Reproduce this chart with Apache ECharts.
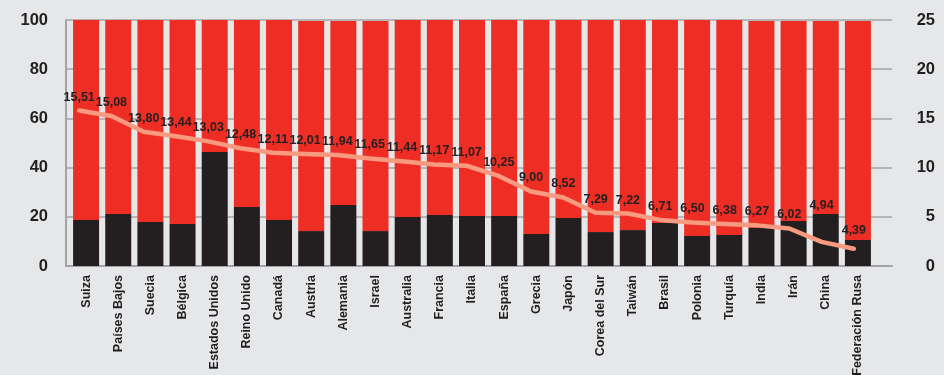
<!DOCTYPE html>
<html>
<head>
<meta charset="utf-8">
<script src="https://cdn.jsdelivr.net/npm/echarts@6/dist/echarts.min.js"></script>
<style>
html,body{margin:0;padding:0;background:#e6e7e9;}
#c{width:944px;height:375px;}
</style>
</head>
<body>
<div id="c"></div>
<script>
const categories = ["Suiza","Países Bajos","Suecia","Bélgica","Estados Unidos","Reino Unido","Canadá","Austria","Alemania","Israel","Australia","Francia","Italia","España","Grecia","Japón","Corea del Sur","Taiwán","Brasil","Polonia","Turquía","India","Irán","China","Federación Rusa"];
const blackValues = [18.7,21.1,17.9,17.1,46.3,24.0,18.7,14.2,24.8,14.2,19.9,20.7,20.3,20.3,13.0,19.5,13.8,14.6,17.5,12.2,12.6,15.4,18.3,21.1,10.6];
const totalValues = [100,100,100,100,100,100,100,99.6,99.6,99.6,100,100,100,100,100,100,100,100,100,100,100,99.6,99.6,99.6,99.6];
const redValues = totalValues.map((t,i)=>+(t-blackValues[i]).toFixed(1));
const lineValues = [15.51,15.08,13.80,13.44,13.03,12.48,12.11,12.01,11.94,11.65,11.44,11.17,11.07,10.25,9.00,8.52,7.29,7.22,6.71,6.50,6.38,6.27,6.02,4.94,4.39];
const leftTicks = {min:0,max:100,interval:20};
const rightTicks = {min:0,max:25,interval:5};

const FONT = '"Liberation Sans",Arial,sans-serif';
const labelDistance = {23:29, 24:11};
const lineData = lineValues.map((v,i)=> labelDistance[i]!==undefined ? {value:v,label:{distance:labelDistance[i]}} : v);

const chart = echarts.init(document.getElementById('c'));
chart.setOption({
  backgroundColor:'#e6e7e9',
  animation:false,
  grid:[
    {left:66,right:52,top:20,bottom:109,outerBoundsMode:'none'},
    {left:70,right:70,top:20,bottom:109,outerBoundsMode:'none'},
    {left:63,right:74,top:20,bottom:109,outerBoundsMode:'none'}
  ],
  xAxis:[
    {gridIndex:0,type:'value',min:0,max:1,axisTick:{show:false},axisLabel:{show:false},splitLine:{show:false},
     axisLine:{show:true,lineStyle:{color:'#a3a4a6',width:2}}},
    {gridIndex:1,type:'category',data:categories,
     axisTick:{show:false},axisLine:{show:false},
     axisLabel:{rotate:90,margin:9,fontFamily:FONT,fontWeight:'bold',fontSize:12.5,color:'#231f20',interval:0}},
    {gridIndex:2,type:'category',data:categories,show:false}
  ],
  yAxis:[
    {gridIndex:0,type:'value',min:leftTicks.min,max:leftTicks.max,interval:leftTicks.interval,
     axisLine:{show:true,lineStyle:{color:'#a3a4a6',width:2}},axisTick:{show:false},
     splitLine:{lineStyle:{color:'#a3a4a6',width:1.5}},
     axisLabel:{margin:18,fontFamily:FONT,fontWeight:'bold',fontSize:16.5,color:'#231f20'}},
    {gridIndex:0,type:'value',min:rightTicks.min,max:rightTicks.max,interval:rightTicks.interval,position:'right',
     axisLine:{show:false},axisTick:{show:false},splitLine:{show:false},
     axisLabel:{margin:43,align:'right',fontFamily:FONT,fontWeight:'bold',fontSize:16.5,color:'#231f20'}},
    {gridIndex:1,type:'value',min:leftTicks.min,max:leftTicks.max,show:false,splitLine:{show:false}},
    {gridIndex:2,type:'value',min:3,max:22.8,show:false,splitLine:{show:false}}
  ],
  series:[
    {type:'bar',stack:'s',data:blackValues,barWidth:26,itemStyle:{color:'#231f20'},xAxisIndex:1,yAxisIndex:2,z:2},
    {type:'bar',stack:'s',data:redValues,barWidth:26,itemStyle:{color:'#ee2e24'},xAxisIndex:1,yAxisIndex:2,z:2},
    {type:'line',data:lineData,xAxisIndex:2,yAxisIndex:3,symbol:'circle',symbolSize:2,showSymbol:true,
     itemStyle:{color:'#f79a7f'},smooth:false,
     lineStyle:{color:'#f79a7f',width:4.5,cap:'round',join:'round'},
     label:{show:true,position:'top',distance:6,fontFamily:FONT,fontWeight:'bold',fontSize:12.5,color:'#231f20',
       formatter:p=>p.value.toFixed(2).replace('.',',')},
     labelLayout:{hideOverlap:false},
     z:5}
  ]
});
</script>
</body>
</html>
